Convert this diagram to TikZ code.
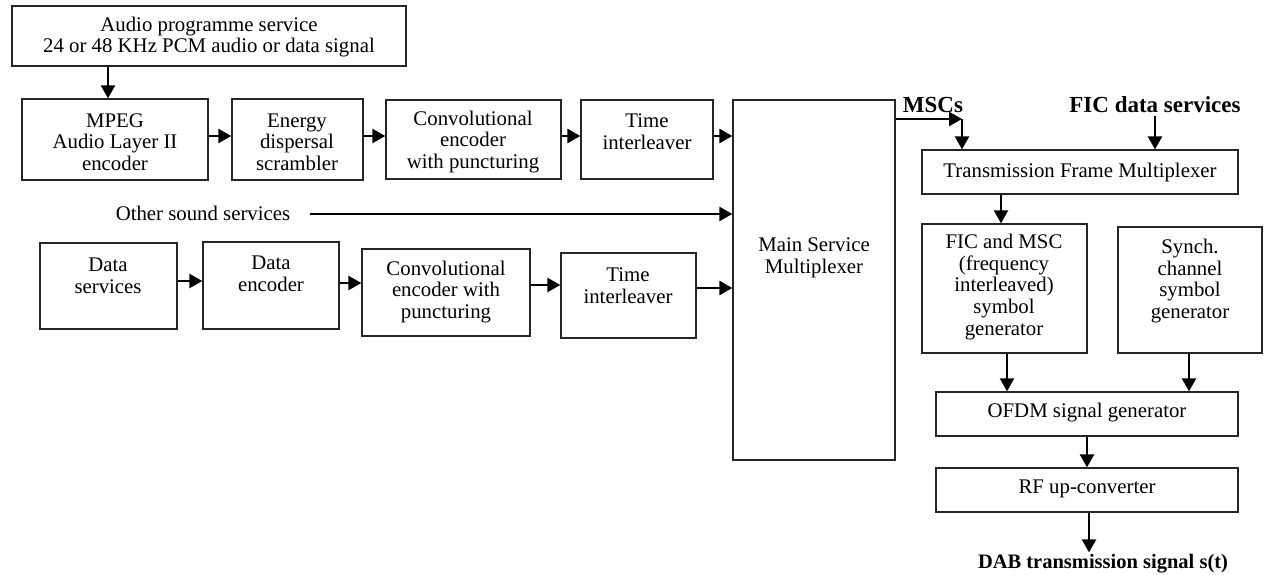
\documentclass[tikz,border=0pt]{standalone}
\usepackage{fontspec}
\setmainfont{Liberation Serif}
\usetikzlibrary{arrows.meta,fit}
\begin{document}
\begin{tikzpicture}[x=1pt,y=-1pt,
  box/.style={draw=black!85, line width=1.3pt, inner sep=0pt},
  txt/.style={align=center, font=\fontsize{20.8}{21.6}\selectfont, inner sep=0pt},
  lbl/.style={font=\fontsize{23}{25}\selectfont\bfseries, inner sep=0pt},
  arr/.style={draw=black, line width=2.4pt, -{Triangle[length=13pt,width=14pt]}}]
\useasboundingbox (0,0) rectangle (1265,575);

% boxes
\node[box, fit={(12,6) (406,66)}] (audio) {};
\node[box, fit={(22,99) (208,180)}] (mpeg) {};
\node[box, fit={(232,99) (363,180)}] (energy) {};
\node[box, fit={(386,100) (561,179)}] (conv1) {};
\node[box, fit={(581,100) (713,179)}] (time1) {};
\node[box, fit={(733,100) (895,460)}] (msm) {};
\node[box, fit={(40,243) (177,329)}] (dsrv) {};
\node[box, fit={(203,242) (339,329)}] (denc) {};
\node[box, fit={(362,249) (530,336)}] (conv2) {};
\node[box, fit={(561,253) (696,338)}] (time2) {};
\node[box, fit={(922,150) (1238,194)}] (tfm) {};
\node[box, fit={(922,224) (1087,353)}] (ficb) {};
\node[box, fit={(1118,227) (1262,353)}] (synch) {};
\node[box, fit={(936,392) (1238,436)}] (ofdm) {};
\node[box, fit={(936,468) (1238,512)}] (rf) {};

% texts
\node[txt] (taudio) at (209,37) {Audio programme service\\24 or 48 KHz PCM audio or data signal};
\node[txt] (tmpeg) at (115,142) {MPEG\\Audio Layer II\\encoder};
\node[txt] (tenergy) at (297,142) {Energy\\dispersal\\scrambler};
\node[txt] (tconv1) at (473,142) {Convolutional\\encoder\\with puncturing};
\node[txt] (ttime1) at (647,132) {Time\\interleaver};
\node[txt] (tmsm) at (814,258) {Main Service\\Multiplexer};
\node[txt] (tother) at (203,213) {Other sound services};
\node[txt] (tdsrv) at (108,276) {Data\\services};
\node[txt] (tdenc) at (271,274) {Data\\encoder};
\node[txt] (tconv2) at (446,292) {Convolutional\\encoder with\\puncturing};
\node[txt] (ttime2) at (628,286) {Time\\interleaver};
\node[txt] (ttfm) at (1080,172) {Transmission Frame Multiplexer};
\node[txt] (tficb) at (1004,287) {FIC and MSC\\(frequency\\interleaved)\\symbol\\generator};
\node[txt] (tsynch) at (1190,281) {Synch.\\channel\\symbol\\generator};
\node[txt] (tofdm) at (1087,413) {OFDM signal generator};
\node[txt] (trf) at (1087,489) {RF up-converter};
\node[lbl] (mscs) at (933,105) {MSCs};
\node[lbl] (ficds) at (1155,105) {FIC data services};
\node[font=\fontsize{20.5}{22}\selectfont\bfseries, inner sep=0pt] (dab) at (1103,564) {DAB transmission signal s(t)};

% helper coordinates
\coordinate (xa) at (108,0);
\coordinate (r1) at (0,136);
\coordinate (ro) at (0,214);
\coordinate (r2a) at (0,281);
\coordinate (r2b) at (0,283);
\coordinate (r2c) at (0,285);
\coordinate (r2d) at (0,288);
\coordinate (join) at (962,119);
\coordinate (xt) at (1001,0);
\coordinate (xf) at (1007,0);
\coordinate (xs) at (1189,0);
\coordinate (xo) at (1087,0);
\coordinate (xr) at (1089,0);
\coordinate (ostart) at (310,214);

% connectors
\draw[arr] (audio.south -| xa) -- (mpeg.north -| xa);
\draw[arr] (mpeg.east |- r1) -- (energy.west |- r1);
\draw[arr] (energy.east |- r1) -- (conv1.west |- r1);
\draw[arr] (conv1.east |- r1) -- (time1.west |- r1);
\draw[arr] (time1.east |- r1) -- (msm.west |- r1);
\draw[arr] (ostart) -- (msm.west |- ro);
\draw[arr] (dsrv.east |- r2a) -- (denc.west |- r2a);
\draw[arr] (denc.east |- r2b) -- (conv2.west |- r2b);
\draw[arr] (conv2.east |- r2c) -- (time2.west |- r2c);
\draw[arr] (time2.east |- r2d) -- (msm.west |- r2d);
\draw[arr] (msm.east |- join) -- (join);
\draw[arr] (join) -- (tfm.north -| join);
\draw[arr] ([yshift=-3pt]ficds.south) -- (tfm.north -| ficds.south);
\draw[arr] (tfm.south -| xt) -- (ficb.north -| xt);
\draw[arr] (ficb.south -| xf) -- (ofdm.north -| xf);
\draw[arr] (synch.south -| xs) -- (ofdm.north -| xs);
\draw[arr] (ofdm.south -| xo) -- (rf.north -| xo);
\draw[arr] (rf.south -| xr) -- ([yshift=2pt]dab.north -| xr);
\end{tikzpicture}
\end{document}
